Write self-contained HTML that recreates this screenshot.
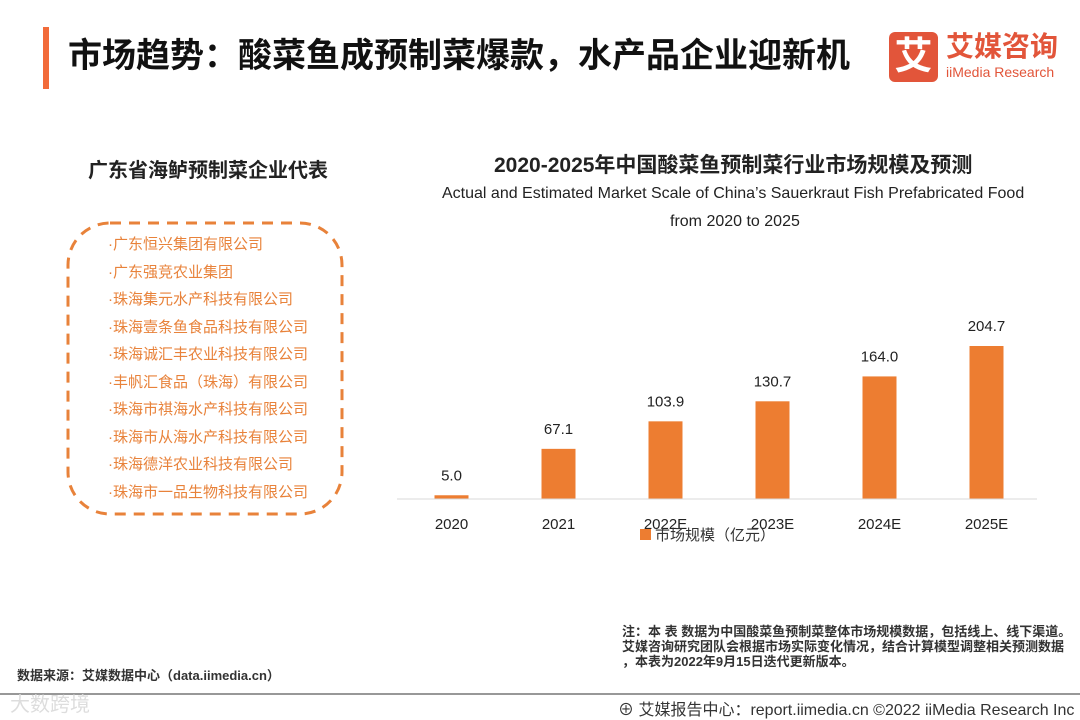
<!DOCTYPE html>
<html><head><meta charset="utf-8"><style>
body{margin:0;width:1080px;height:720px;background:#fff;position:relative;overflow:hidden;font-family:"Liberation Sans","Noto Sans CJK SC",sans-serif}
.a{position:absolute;white-space:nowrap}
</style></head><body>
<div class="a" style="left:43px;top:27px;width:6px;height:62px;background:#f26b3a"></div>
<div class="a" style="left:68px;top:34px;font-size:34px;font-weight:bold;color:#111;line-height:44px">市场趋势：酸菜鱼成预制菜爆款，水产品企业迎新机</div>
<div class="a" style="left:889px;top:32px;width:49px;height:50px;background:#e2553a;border-radius:6px;color:#fff;font-size:38px;font-weight:bold;text-align:center;line-height:50px">艾</div>
<div class="a" style="left:946px;top:30px;font-size:28px;font-weight:bold;color:#e2553a;line-height:34px">艾媒咨询</div>
<div class="a" style="left:946px;top:64px;font-size:14px;color:#e2553a;line-height:16px">iiMedia Research</div>

<div class="a" style="left:88px;top:154px;font-size:20px;font-weight:bold;color:#222">广东省海鲈预制菜企业代表</div>
<svg class="a" style="left:0;top:0" width="1080" height="720">
<rect x="68" y="223" width="274" height="291" rx="42" fill="none" stroke="#e8823a" stroke-width="3" stroke-dasharray="11 8"/>
<g id="bars"></g>
<line x1="397" y1="499" x2="1037" y2="499" stroke="#d9d9d9" stroke-width="1"/>
<line x1="0" y1="694" x2="1080" y2="694" stroke="#777" stroke-width="1.5"/>
</svg>
<div class="a" id="list" style="left:108px;top:231px;font-size:15px;color:#e8823a;line-height:27.5px"></div>

<div class="a" style="left:494px;top:149px;font-size:21px;font-weight:bold;color:#222">2020-2025年中国酸菜鱼预制菜行业市场规模及预测</div>
<div class="a" style="left:442px;top:184px;font-size:16px;color:#222;line-height:20px">Actual and Estimated Market Scale of China’s Sauerkraut Fish Prefabricated Food</div>
<div class="a" style="left:670px;top:212px;font-size:16px;color:#222;line-height:20px">from 2020 to 2025</div>
<div class="a" style="left:640px;top:527px;font-size:15px;color:#333;line-height:18px"><span style="display:inline-block;width:11px;height:11px;background:#ed7d31;margin-right:4px"></span>市场规模（亿元）</div>

<div class="a" style="left:622px;top:624px;font-size:13px;color:#333;line-height:15px;font-weight:bold">注：本 表 数据为中国酸菜鱼预制菜整体市场规模数据，包括线上、线下渠道。<br>艾媒咨询研究团队会根据市场实际变化情况，结合计算模型调整相关预测数据<br>，本表为2022年9月15日迭代更新版本。</div>
<div class="a" style="left:17px;top:665px;font-size:13px;color:#333;font-weight:bold">数据来源：艾媒数据中心（data.iimedia.cn）</div>
<div class="a" style="left:10px;top:688px;font-size:20px;color:#ddd">大数跨境</div>
<div class="a" style="left:618px;top:696px;font-size:16px;color:#333">⊕ 艾媒报告中心：report.iimedia.cn  ©2022  iiMedia Research  Inc</div>
<script>
const companies=["广东恒兴集团有限公司","广东强竞农业集团","珠海集元水产科技有限公司","珠海壹条鱼食品科技有限公司","珠海诚汇丰农业科技有限公司","丰帆汇食品（珠海）有限公司","珠海市祺海水产科技有限公司","珠海市从海水产科技有限公司","珠海德洋农业科技有限公司","珠海市一品生物科技有限公司"];
const categories=["2020","2021","2022E","2023E","2024E","2025E"];
const values=[5.0,67.1,103.9,130.7,164.0,204.7];
const valueLabels=["5.0","67.1","103.9","130.7","164.0","204.7"];
const list=document.getElementById('list');
companies.forEach(c=>{const d=document.createElement('div');


d.textContent='·'+c;list.appendChild(d);});
const ns='http://www.w3.org/2000/svg',g=document.getElementById('bars');
const x0=451.5,step=107,base=499,k=153/204.7,bw=34;
const xs=i=>x0+i*step, ys=v=>base-v*k;
categories.forEach((c,i)=>{
 const r=document.createElementNS(ns,'rect');
 
 
 r.setAttribute('x',xs(i)-bw/2);r.setAttribute('y',ys(values[i]));r.setAttribute('width',bw);r.setAttribute('height',base-ys(values[i]));r.setAttribute('fill','#ed7d31');g.appendChild(r);
 const t=document.createElementNS(ns,'text');
 
 
 t.setAttribute('x',xs(i));t.setAttribute('y',ys(values[i])-15);t.setAttribute('text-anchor','middle');t.setAttribute('font-size','15');t.setAttribute('fill','#222');t.textContent=valueLabels[i];g.appendChild(t);
 const l=document.createElementNS(ns,'text');
 
 
 l.setAttribute('x',xs(i));l.setAttribute('y',529);l.setAttribute('text-anchor','middle');l.setAttribute('font-size','15');l.setAttribute('fill','#222');l.textContent=c;g.appendChild(l);
});
</script>
</body></html>
